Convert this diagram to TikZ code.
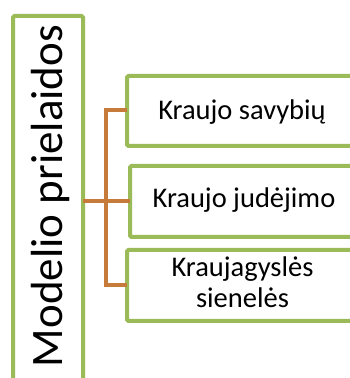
\documentclass[tikz,border=0pt]{standalone}
\usepackage{fontspec}
\setmainfont{Carlito}
\definecolor{boxgreen}{HTML}{9BBB59}
\definecolor{linkorange}{HTML}{C77B3A}
\begin{document}
\begin{tikzpicture}[x=1pt,y=1pt,
  greenbox/.style={draw=boxgreen,line width=4pt,rounded corners=1.5pt,fill=white},
  link/.style={draw=linkorange,line width=3.5pt}]
\useasboundingbox (0,0) rectangle (350,378);
\clip (0,0) rectangle (350,378);
% left box
\draw[greenbox] (13,-10) rectangle (83,362);
\coordinate (lb) at (83,179);
\node[rotate=90,anchor=base,font=\fontsize{45}{50}\selectfont,inner sep=0pt] (title) at (62,182) {Modelio prielaidos};
% right boxes
\draw[greenbox] (127,302) rectangle (360,232);
\draw[greenbox] (130,212) rectangle (360,141);
\draw[greenbox] (127,128) rectangle (360,57);
\coordinate (b1) at (127,268);
\coordinate (b2) at (130,177);
\coordinate (b3) at (127,93);
\node[anchor=base,font=\fontsize{28.5}{31}\selectfont,inner sep=0pt] (t1) at (242,258) {Kraujo savybių};
\node[anchor=base,font=\fontsize{28.5}{31}\selectfont,inner sep=0pt] (t2) at (244,170) {Kraujo judėjimo};
\node[anchor=base,font=\fontsize{28.5}{31}\selectfont,inner sep=0pt] (t3a) at (242.5,101) {Kraujagyslės};
\node[anchor=base,font=\fontsize{28.5}{31}\selectfont,inner sep=0pt] (t3b) at (242.5,70) {sienelės};
% connectors
\coordinate (j) at (106,177);
\draw[link] (lb |- j) -- (j);
\draw[link] (b1) -- (106,268) -- (106,93) -- (b3);
\draw[link] (j) -- (b2);
\end{tikzpicture}
\end{document}
